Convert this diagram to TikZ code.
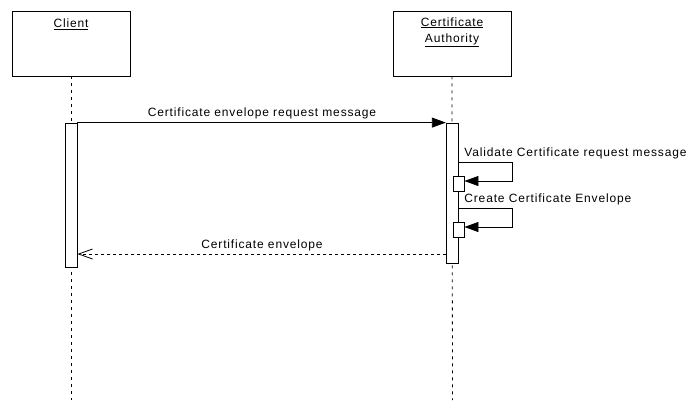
\documentclass[tikz,border=0pt]{standalone}
\usepackage{fontspec}
\setmainfont{Liberation Sans}
\newfontfamily\lblfont[LetterSpace=7]{Liberation Sans}
\usetikzlibrary{arrows.meta}
\begin{document}
\begin{tikzpicture}[x=1pt,y=-1pt,line width=0.8pt,
  obj/.style={draw,fill=white,minimum width=118pt,minimum height=65pt,inner sep=0pt},
  actbox/.style={draw,fill=white,minimum width=12pt,inner sep=0pt},
  lbl/.style={font=\lblfont\fontsize{12}{16}\selectfont,inner sep=0pt},
  lifeline/.style={dash pattern=on 3pt off 4pt},
  msg/.style={-{Triangle[length=14pt,width=10pt]}},
  reply/.style={dash pattern=on 3pt off 3pt,-{Straight Barb[length=14pt,width=10pt,line width=0.8pt]}}
]
\useasboundingbox (0,0) rectangle (692,400);
% objects
\node[obj] (client) at (71,43.5) {};
\node[obj] (ca) at (452,43.5) {};
\node[lbl] (clientlbl) at (71,24) {\underline{Client}};
\node[lbl,align=center] (calbl) at (452,32) {\underline{Certificate}\\\underline{Authority}};
% lifelines
\coordinate (clientend) at (71,400);
\coordinate (caend) at (452.5,400);
\draw[lifeline] (client.south) -- (clientend);
\draw[lifeline] (ca.south) -- (caend);
% activations
\node[actbox,minimum height=144pt] (clientact) at (71,195) {};
\node[actbox,minimum width=12.5pt,minimum height=140pt] (caact) at (452.5,193) {};
\node[actbox,minimum width=11pt,minimum height=15pt] (small1) at (458.5,183.5) {};
\node[actbox,minimum width=11pt,minimum height=15pt] (small2) at (458.5,229.5) {};
% helper coordinates
\coordinate (y162) at (0,162);
\coordinate (y181) at (0,181);
\coordinate (y208) at (0,208);
\coordinate (y227) at (0,227);
\coordinate (y254) at (0,254);
\coordinate (xr) at (512,0);
% message 1
\draw[msg] (clientact.north east) -- (caact.north west);
\node[lbl] (m1) at (262,113) {Certificate envelope request message};
% self message 1
\draw[msg] (caact.east |- y162) -- (xr |- y162) -- (xr |- y181) -- (small1.east |- y181);
\node[lbl,anchor=west] (m2) at (464,153) {Validate Certificate request message};
% self message 2
\draw[msg] (caact.east |- y208) -- (xr |- y208) -- (xr |- y227) -- (small2.east |- y227);
\node[lbl,anchor=west] (m3) at (464,199) {Create Certificate Envelope};
% reply
\draw[reply] (caact.west |- y254) -- (clientact.east |- y254);
\node[lbl] (m4) at (262,245) {Certificate envelope};
\end{tikzpicture}
\end{document}
